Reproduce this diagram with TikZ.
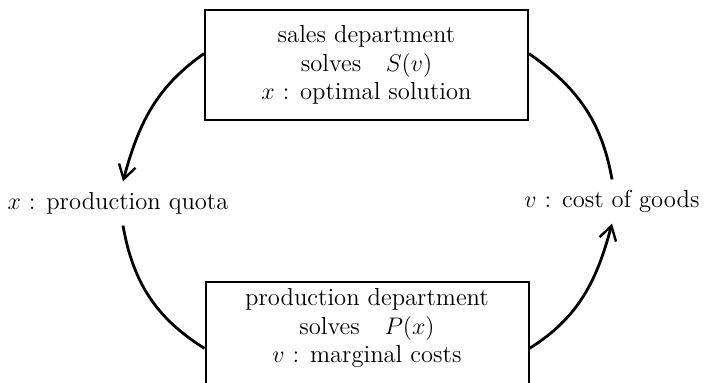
\documentclass[tikz,border=0pt]{standalone}
\usetikzlibrary{arrows.meta}
\begin{document}
\begin{tikzpicture}[x=0.5pt,y=-0.5pt,
  txt/.style={font=\fontsize{12.3}{14.25}\selectfont, align=center},
  dept/.style={draw, line width=1pt, minimum width=161.5pt, minimum height=55pt, inner sep=0pt, txt},
  lbl/.style={font=\fontsize{12.3}{14.25}\selectfont, text height=8.6pt, text depth=2.5pt, inner xsep=0pt, inner ysep=5.3pt},
  arc/.style={line width=1.4pt},
  tip/.style={-{Straight Barb[length=7pt,width=8.5pt,line width=1.2pt]}}]
\useasboundingbox (0,0) rectangle (705,383);
\clip (0,0) rectangle (705,383);
\fill[white] (0,0) rectangle (705,383);

\node[dept] (sales) at (366.5,65) {sales department\\ solves\quad $S(v)$\\ $x$ : optimal solution};
\node[dept] (prod) at (367,337) {};
\node[txt] (prodtxt) at (367,328) {production department\\ solves\quad $P(x)$\\ $v$ : marginal costs};

\node[lbl] (xq) at (118,203.5) {$x$ : production quota};
\node[lbl] (vc) at (612,201.5) {$v$ : cost of goods};

\draw[arc,tip] (sales.176) to[out=215,in=75] ([xshift=2.5pt]xq.north);
\draw[arc] ([xshift=2.5pt]xq.south) to[out=-80,in=148] (prod.184);
\draw[arc,tip] (prod.-4) to[out=32,in=-105] (vc.south);
\draw[arc] (vc.north) to[out=100,in=-35] (sales.4);
\end{tikzpicture}
\end{document}
